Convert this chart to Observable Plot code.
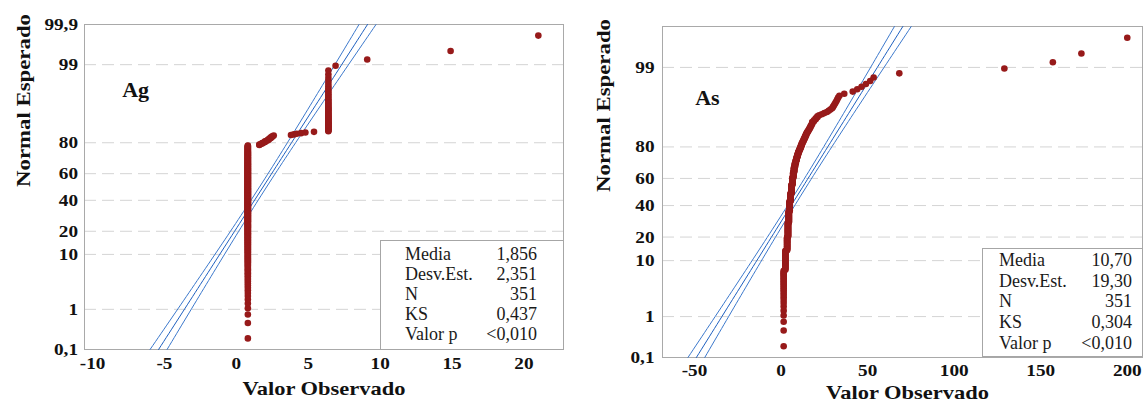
<!DOCTYPE html>
<html><head><meta charset="utf-8">
<script src="https://cdn.jsdelivr.net/npm/d3@7"></script>
<script src="https://cdn.jsdelivr.net/npm/@observablehq/plot@0.6"></script>
<style>
html,body{margin:0;padding:0;background:#fff;}
#wrap{position:relative;width:1143px;height:403px;overflow:hidden;background:#fff;}
.panel{position:absolute;top:0;}
.panel svg{display:block;overflow:visible;}
[aria-label^="x-axis"] text,[aria-label^="y-axis"] text{font-family:"Liberation Serif","Times New Roman",serif;font-weight:bold;font-size:17px;fill:#111;}
.stats{position:absolute;background:#fff;border:1px solid #a6a6a6;box-sizing:border-box;font-family:"Liberation Serif","Times New Roman",serif;font-size:18px;color:#1a1a1a;}
.stats .row{display:flex;justify-content:space-between;white-space:nowrap;}
</style></head>
<body><div id="wrap"></div>
<script>
// ---------- data ----------
const statLabels = ["Media", "Desv.Est.", "N", "KS", "Valor p"];

// Ag: observed values (sorted runs) and counts
const agValues = [0.8, 1.6, 1.7, 1.8, 1.9, 2.0, 2.1, 2.2, 2.3, 2.4, 2.5, 2.6, 3.8, 4.0, 4.2, 4.5, 4.8, 5.4, 6.4, 6.9, 9.1, 14.9, 21.0];
const agCounts = [276, 2, 1, 2, 1, 2, 1, 2, 2, 2, 2, 1, 1, 1, 1, 1, 1, 1, 47, 1, 1, 1, 1];
const agMean = 1.856, agSd = 2.351, agN = 351;
const agStatText = ["1,856", "2,351", "351", "0,437", "<0,010"];

// As: observed values (sorted runs) and counts
const asValues = [1.5, 2.5, 3.5, 4, 4.5, 5, 5.5, 6, 6.5, 7, 7.5, 8, 8.5, 9, 9.5, 10, 10.5, 11, 11.5, 12, 12.5, 13, 13.5, 14, 14.5, 15, 15.5, 16, 16.5, 17, 17.5, 18, 19, 20, 21, 22, 23.5, 25, 26.5, 27.5, 28.5, 29.5, 30, 30.5, 31, 31.5, 32, 32.5, 33, 33.7, 36.5, 41.4, 44, 46.5, 49, 51.5, 53.5, 68.3, 129, 157, 173.5, 200];
const asCounts = [25, 23, 22, 30, 27, 25, 20, 22, 18, 14, 12, 9, 7, 7, 6, 5, 4, 4, 4, 4, 3, 3, 3, 3, 3, 2, 2, 2, 2, 2, 2, 3, 2, 2, 2, 1, 1, 1, 1, 1, 1, 1, 1, 1, 1, 1, 1, 1, 1, 1, 1, 1, 1, 1, 1, 1, 1, 1, 1, 1, 1, 1];
const asMean = 10.70, asSd = 19.30, asN = 351;
const asStatText = ["10,70", "19,30", "351", "0,304", "<0,010"];

// axes
const agXTicks = [-10, -5, 0, 5, 10, 15, 20];
const asXTicks = [-50, 0, 50, 100, 150, 200];
const agYTickPct = [0.1, 1, 10, 20, 40, 60, 80, 99, 99.9];
const agYTickLabels = ["0,1", "1", "10", "20", "40", "60", "80", "99", "99,9"];
const asYTickPct = [0.1, 1, 10, 20, 40, 60, 80, 99];
const asYTickLabels = ["0,1", "1", "10", "20", "40", "60", "80", "99"];
const gridPct = [1, 10, 20, 40, 60, 80, 99];

// ---------- helpers ----------
function probit(p){
  const a=[-3.969683028665376e+01,2.209460984245205e+02,-2.759285104469687e+02,1.383577518672690e+02,-3.066479806614716e+01,2.506628277459239e+00];
  const b=[-5.447609879822406e+01,1.615858368580409e+02,-1.556989798598866e+02,6.680131188771972e+01,-1.328068155288572e+01];
  const c=[-7.784894002430293e-03,-3.223964580411365e-01,-2.400758277161838e+00,-2.549671010228970e+00,4.374664141464968e+00,2.938163982698783e+00];
  const d=[7.784695709041462e-03,3.224671290700398e-01,2.445134137142996e+00,3.754408661907416e+00];
  const pl=0.02425, ph=1-pl;
  if(p<pl){const q=Math.sqrt(-2*Math.log(p));return (((((c[0]*q+c[1])*q+c[2])*q+c[3])*q+c[4])*q+c[5])/((((d[0]*q+d[1])*q+d[2])*q+d[3])*q+1);}
  if(p<=ph){const q=p-0.5,r=q*q;return (((((a[0]*r+a[1])*r+a[2])*r+a[3])*r+a[4])*r+a[5])*q/(((((b[0]*r+b[1])*r+b[2])*r+b[3])*r+b[4])*r+1);}
  const q=Math.sqrt(-2*Math.log(1-p));
  return -(((((c[0]*q+c[1])*q+c[2])*q+c[3])*q+c[4])*q+c[5])/((((d[0]*q+d[1])*q+d[2])*q+d[3])*q+1);
}
const zMin = probit(0.001), zMax = probit(0.999);
const SERIF = '"Liberation Serif","Times New Roman",serif';

function buildPanel(o){
  const obs = [];
  o.values.forEach((v,k)=>{for(let j=0;j<o.counts[k];j++) obs.push(v);});
  const N = obs.length;
  // Minitab plotting positions (i-0.3)/(n+0.4)
  const pts = obs.map((v,i)=>({x:v, z:probit((i+1-0.3)/(N+0.4))}));
  const zs = d3.range(0,81).map(k=>zMin+(zMax-zMin)*k/80);
  const fit = zs.map(z=>({x:o.mean+z*o.sd, z}));
  const half = z=>1.96*o.sd*Math.sqrt((1+z*z/2)/o.n);
  const lo = zs.map(z=>({x:o.mean+z*o.sd-half(z), z}));
  const hi = zs.map(z=>({x:o.mean+z*o.sd+half(z), z}));
  const yT = o.yPct.map(p=>probit(p/100));
  const yFmt = d=>{const i=yT.findIndex(t=>Math.abs(t-d)<1e-6);return i<0?"":o.yLabels[i];};
  const chart = Plot.plot({
    width:o.width, height:403,
    marginLeft:o.m[0], marginRight:o.m[1], marginTop:o.m[2], marginBottom:o.m[3],
    style:{fontFamily:SERIF, fontSize:"17px", color:"#111", background:"transparent", overflow:"visible"},
    x:{domain:o.xDomain, ticks:o.xTicks, tickFormat:d=>String(d), tickSize:0, tickPadding:o.xPad, label:null},
    y:{domain:[zMin,zMax], ticks:yT, tickFormat:yFmt, tickSize:0, tickPadding:o.yPad, label:null},
    marks:[
      Plot.ruleY(gridPct,{y:p=>probit(p/100), stroke:"#d4d4d4", strokeWidth:1, strokeDasharray:"12,6"}),
      Plot.frame({stroke:"#a9a9a9", strokeWidth:1}),
      Plot.line(lo,{x:"x",y:"z",stroke:"#3b78cc",strokeWidth:1}),
      Plot.line(fit,{x:"x",y:"z",stroke:"#1d5fc0",strokeWidth:1}),
      Plot.line(hi,{x:"x",y:"z",stroke:"#3b78cc",strokeWidth:1}),
      Plot.dot(pts,{x:"x",y:"z",r:3.3,fill:"#971a1a",stroke:null}),
      Plot.text([o.name],{text:d=>d, frameAnchor:"top-left", dx:o.nameDx, dy:o.nameDy, textAnchor:"start", lineAnchor:"bottom", fontSize:22, fontWeight:"bold", fontFamily:SERIF, fill:"#111"}),
      Plot.text(["Valor Observado"],{text:d=>d, frameAnchor:"bottom", dx:o.xlDx, dy:o.xlDy, lineAnchor:"bottom", fontSize:19, fontWeight:"bold", fontFamily:SERIF, fill:"#111"}),
      Plot.text(["Normal Esperado"],{text:d=>d, frameAnchor:"left", dx:o.ylDx, rotate:-90, lineAnchor:"bottom", fontSize:19, fontWeight:"bold", fontFamily:SERIF, fill:"#111"})
    ]
  });
  const div = document.createElement("div");
  div.className = "panel";
  div.style.left = o.left+"px";
  div.appendChild(chart);
  document.getElementById("wrap").appendChild(div);

  // stats box
  const box = document.createElement("div");
  box.className = "stats";
  Object.assign(box.style, o.box);
  statLabels.forEach((lab,i)=>{
    const r = document.createElement("div");
    r.className = "row";
    r.style.lineHeight = o.rowH+"px";
    const a = document.createElement("span"); a.textContent = lab;
    const b = document.createElement("span"); b.textContent = o.stats[i];
    r.appendChild(a); r.appendChild(b); box.appendChild(r);
  });
  document.getElementById("wrap").appendChild(box);

  // widen serif text to match the reference's stretched type
  chart.querySelectorAll('[aria-label^="x-axis"] text, [aria-label^="y-axis"] text').forEach(t=>{
    const L = t.getComputedTextLength();
    if (L>0){ t.setAttribute("textLength", (L*1.13).toFixed(1)); t.setAttribute("lengthAdjust","spacingAndGlyphs"); }
  });
  chart.querySelectorAll("text").forEach(t=>{
    if (t.textContent==="Valor Observado"){ t.setAttribute("textLength", 163); t.setAttribute("lengthAdjust","spacingAndGlyphs"); }
    if (t.textContent==="Normal Esperado"){ t.setAttribute("textLength", 173); t.setAttribute("lengthAdjust","spacingAndGlyphs"); }
  });
}

buildPanel({
  name:"Ag", values:agValues, counts:agCounts, mean:agMean, sd:agSd, n:agN, stats:agStatText,
  xDomain:[-10.56, 22.75], xTicks:agXTicks, yPct:agYTickPct, yLabels:agYTickLabels,
  width:580, left:0, m:[84,17,24,54], xPad:7, yPad:6.5,
  nameDx:37.7, nameDy:72.5, xlDx:0, xlDy:45, ylDx:-54.5,
  box:{left:"380px", top:"240px", width:"184px", height:"110px", padding:"3px 26px 0 24px"}, rowH:20
});
buildPanel({
  name:"As", values:asValues, counts:asCounts, mean:asMean, sd:asSd, n:asN, stats:asStatText,
  xDomain:[-68.5, 208.8], xTicks:asXTicks, yPct:asYTickPct, yLabels:asYTickLabels,
  width:563, left:580, m:[82,1,26,46], xPad:6, yPad:8,
  nameDx:32.7, nameDy:78, xlDx:5, xlDy:41, ylDx:-52.5,
  box:{left:"982px", top:"248px", width:"161px", height:"109px", padding:"1px 10px 0 16px"}, rowH:20.7
});
</script>
</body></html>
